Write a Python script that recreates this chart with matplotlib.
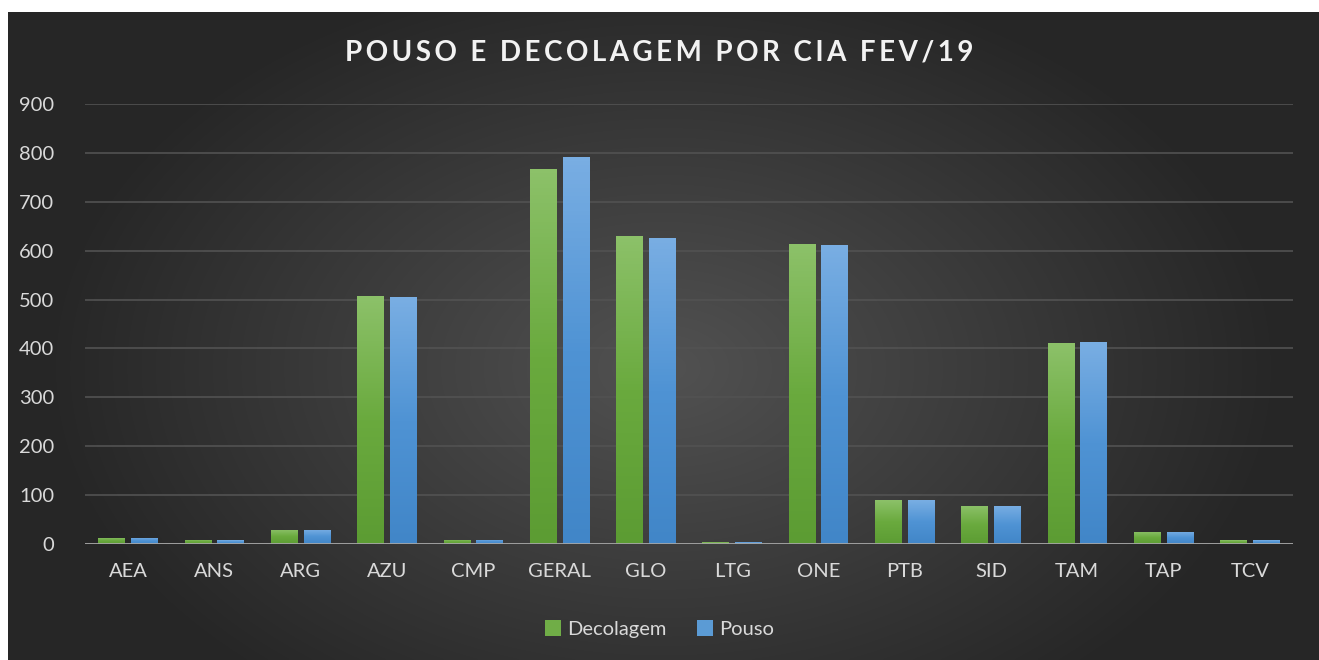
import numpy as np
import matplotlib
matplotlib.use("Agg")
import matplotlib.pyplot as plt
from matplotlib.colors import LinearSegmentedColormap

plt.rcParams['font.family'] = ['Lato', 'DejaVu Sans']

cias = ['AEA', 'ANS', 'ARG', 'AZU', 'CMP', 'GERAL', 'GLO', 'LTG', 'ONE',
        'PTB', 'SID', 'TAM', 'TAP', 'TCV']
decolagem = [13, 9, 29, 507, 9, 767, 630, 4, 613, 90, 78, 411, 25, 8]
pouso = [13, 8, 29, 505, 9, 791, 626, 4, 611, 90, 78, 413, 25, 8]
yticks = [0, 100, 200, 300, 400, 500, 600, 700, 800, 900]
titulo = 'POUSO E DECOLAGEM POR CIA FEV/19'

W, H = 1319, 660
fig = plt.figure(figsize=(W / 100, H / 100), dpi=100, facecolor='white')

# fundo com gradiente radial
bg = fig.add_axes([8 / W, 0, 1 - 8 / W, 1 - 12 / H])
yy, xx = np.mgrid[0:1:300j, 0:1:600j]
r = np.sqrt(((xx - 0.5) * 1.2) ** 2 + ((yy - 0.55) * 0.9) ** 2)
g = np.clip(0.32 - 0.3 * r, 0.15, 0.32)
bg.imshow(np.dstack([g, g, g]), extent=[0, 1, 0, 1], aspect='auto', interpolation='bilinear')
bg.set_axis_off()

ax = fig.add_axes([85 / W, 1 - 544 / H, (1293 - 85) / W, (544 - 104) / H])
ax.patch.set_alpha(0)

x = np.arange(len(cias))
w = 0.31
green = LinearSegmentedColormap.from_list('g', ['#5C9C33', '#6AAA3E', '#8CC169'])
blue = LinearSegmentedColormap.from_list('b', ['#4186C8', '#4F93D4', '#79AEE3'])
grad = np.linspace(0, 1, 100).reshape(-1, 1)

b1 = ax.bar(x - 0.19, decolagem, w, color='#70AD47', label='Decolagem', zorder=3)
b2 = ax.bar(x + 0.19, pouso, w, color='#5B9BD5', label='Pouso', zorder=3)
for bars, cm in [(b1, green), (b2, blue)]:
    for p in bars:
        x0, y0 = p.get_x(), p.get_y()
        im = ax.imshow(grad, cmap=cm, origin='lower', aspect='auto',
                       extent=[x0, x0 + p.get_width(), y0, y0 + p.get_height()],
                       zorder=4)
        im.set_clip_path(p)

ax.set_xlim(-0.5, len(cias) - 0.5)
ax.set_ylim(0, 900)
ax.set_yticks(yticks)
ax.set_xticks(x)
ax.set_xticklabels(cias)
ax.grid(axis='y', color='#525252', linewidth=1.2, zorder=0)
ax.axhline(0, color='#A6A6A6', linewidth=2, zorder=5)
for s in ax.spines.values():
    s.set_visible(False)
ax.tick_params(length=0, colors='#D9D9D9', labelsize=14.5)
ax.tick_params(axis='x', pad=14)
ax.tick_params(axis='y', pad=22)

# titulo com espacamento entre letras
espacado = '  '.join('\u2009'.join(p) for p in titulo.split())
fig.text(0.5, 1 - 52 / H, espacado, ha='center', va='center', color='#F2F2F2',
         fontsize=20, fontweight='bold')

fig.legend(handles=[b1, b2], loc='center', bbox_to_anchor=(0.5, 1 - 629 / H),
           ncol=2, frameon=False, fontsize=14.5, labelcolor='#D9D9D9',
           handlelength=0.8, handleheight=0.8, handletextpad=0.3, columnspacing=1.5)

fig.savefig('out.png', dpi=100)
